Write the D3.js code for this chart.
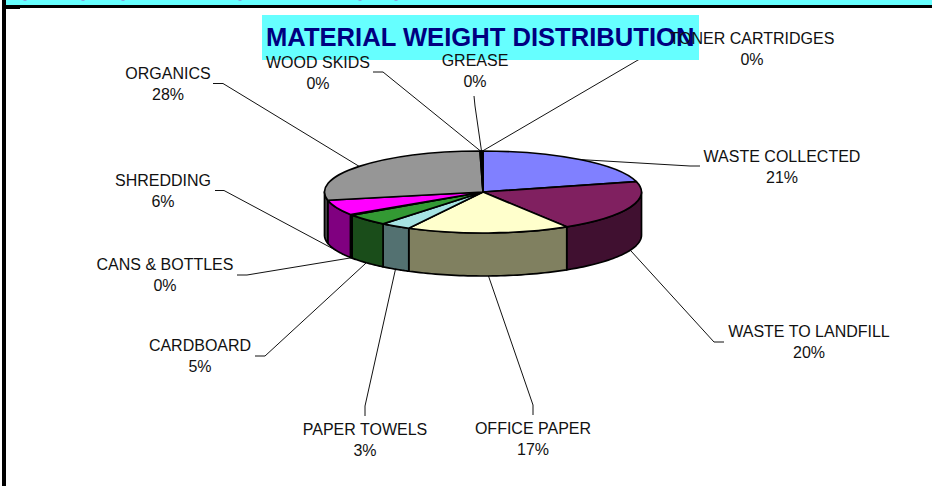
<!DOCTYPE html>
<html>
<head>
<meta charset="utf-8">
<script src="https://cdn.jsdelivr.net/npm/d3@7/dist/d3.min.js"></script>
<style>
html,body{margin:0;padding:0;background:#fff;overflow:hidden}
svg{display:block}
text{font-family:"Liberation Sans",Arial,sans-serif}
</style>
</head>
<body>
<div id="chart"></div>
<script>
// Data
const categories = ["WASTE COLLECTED","WASTE TO LANDFILL","OFFICE PAPER","PAPER TOWELS","CARDBOARD","CANS & BOTTLES","SHREDDING","ORGANICS","WOOD SKIDS","GREASE","TONER CARTRIDGES"];
const values = [20.9,20.2,16.6,3.1,4.6,0.3,6.0,27.9,0.1,0.1,0.1];
const percentLabels = ["21%","20%","17%","3%","5%","0%","6%","28%","0%","0%","0%"];
const titleText = "MATERIAL WEIGHT DISTRIBUTION";

// Styles, separate from data
const topColors  = ["#8080ff","#802060","#ffffcc","#a6e3e3","#339933","#004d00","#ff00ff","#969696","#000080","#333399","#003366"];
const sideColors = ["#404080","#401030","#808060","#537171","#1a4d1a","#002600","#800080","#4b4b4b","#000040","#1a1a4d","#001a33"];

// Label layout: [label centre x, first baseline y, elbow x, elbow y, outer end x, outer end y]
const labelLayout = [
  [782,162,690,166,700,166],
  [809,337,714,342,724,342],
  [533,434,533,405,533,415],
  [365,435,365,406,365,416],
  [200,351,265,356,255,356],
  [165,270,247,275,237,275],
  [163,186,224,190.5,215,190.5],
  [168,79,223,83.5,213,83.5],
  [318,68,383,72,373,72],
  [475,66,475,106,474,96],
  [752,44,638,60,651,53]
];

const W = 932, H = 486;
const cx = 483, cy = 192, rx = 158.5, ry = 41, depth = 43;

const svg = d3.select("#chart").append("svg").attr("width",W).attr("height",H).attr("viewBox",`0 0 ${W} ${H}`);

// Page furniture
svg.append("rect").attr("x",0).attr("y",0).attr("width",W).attr("height",H).attr("fill","#fff");
svg.append("rect").attr("x",6).attr("y",0).attr("width",W-6).attr("height",5).attr("fill","#66ffff");
svg.append("rect").attr("x",2).attr("y",5).attr("width",W-2).attr("height",3).attr("fill","#000");
svg.append("rect").attr("x",2).attr("y",0).attr("width",4).attr("height",H).attr("fill","#000");
svg.append("rect").attr("x",6).attr("y",8).attr("width",14).attr("height",1).attr("fill","#000");
svg.selectAll("rect.speck").data([25,83,123,240,360,396]).join("rect").attr("class","speck")
  .attr("x",d=>d-1.5).attr("y",0).attr("width",3).attr("height",1).attr("fill","#7fa8e0");

// Pie geometry through D3
const pie = d3.pie().sort(null).value(d=>d).startAngle(0).endAngle(2*Math.PI);
const arcs = pie(values);
const sx = d3.scaleLinear().domain([-1,1]).range([cx-rx,cx+rx]);
const sy = d3.scaleLinear().domain([-1,1]).range([cy-ry,cy+ry]);
const px = a => sx(Math.sin(a));
const py = a => sy(-Math.cos(a));
const isFront = a => a > Math.PI/2 && a < 3*Math.PI/2;

// Leader lines go beneath the pie
const leader = d3.line();
svg.append("g").selectAll("path").data(arcs).join("path")
  .attr("fill","none").attr("stroke","#111").attr("stroke-width",1)
  .attr("d",(d,i)=>{
    const m=(d.startAngle+d.endAngle)/2, L=labelLayout[i];
    return leader([[px(m),py(m)+(isFront(m)?depth:0)],[L[2],L[3]],[L[4],L[5]]]);
  });

// Side walls: visible between 90deg and 270deg
const wallLine = d3.line();
const wall = svg.append("g");
arcs.forEach((d,i)=>{
  const a0=Math.max(d.startAngle,Math.PI/2), a1=Math.min(d.endAngle,3*Math.PI/2);
  if(a1<=a0) return;
  const angles=d3.range(0,41).map(k=>a0+(a1-a0)*k/40);
  const pts=angles.map(a=>[px(a),py(a)]).concat(angles.slice().reverse().map(a=>[px(a),py(a)+depth]));
  wall.append("path").attr("d",wallLine(pts)+"Z").attr("fill",sideColors[i])
    .attr("stroke","#000").attr("stroke-width",1.7).attr("stroke-linejoin","round");
});

// Top face
const arc = d3.arc().innerRadius(0).outerRadius(rx);
svg.append("g").attr("transform",`translate(${cx},${cy}) scale(1,${ry/rx})`)
  .selectAll("path").data(arcs).join("path")
  .attr("d",arc).attr("fill",(d,i)=>topColors[i])
  .attr("stroke","#000").attr("stroke-width",1.7).attr("stroke-linejoin","round")
  .attr("vector-effect","non-scaling-stroke");

// Title
svg.append("rect").attr("x",262).attr("y",15).attr("width",437).attr("height",45).attr("fill","#66ffff");
svg.append("text").attr("x",266).attr("y",46).attr("font-size",25.6).attr("font-weight","bold")
  .attr("fill","#000080").text(titleText);

// Labels
const labels = svg.append("g").attr("font-size",16).attr("fill","#111").attr("text-anchor","middle");
categories.forEach((c,i)=>{
  const L=labelLayout[i];
  labels.append("text").attr("x",L[0]).attr("y",L[1]).text(c);
  labels.append("text").attr("x",L[0]).attr("y",L[1]+21).text(percentLabels[i]);
});
</script>
</body>
</html>
